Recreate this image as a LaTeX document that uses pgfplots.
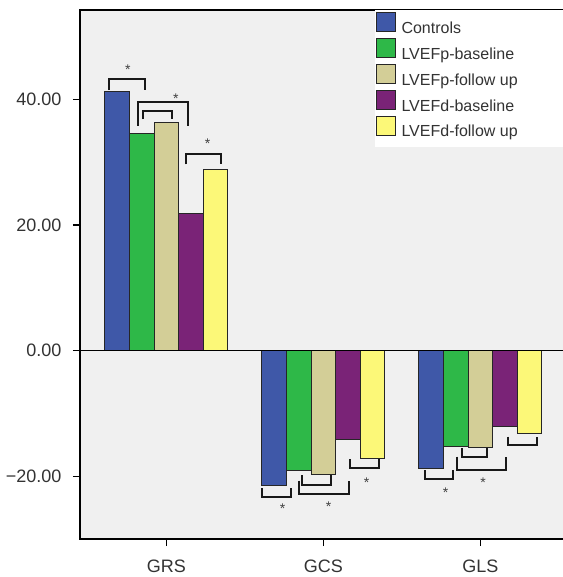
\documentclass[border=0pt]{standalone}
\usepackage{pgfplots}
\pgfplotsset{compat=1.18}
\usepackage{fontspec}
\setmainfont{Liberation Sans}
\definecolor{cblue}{HTML}{3F58A8}
\definecolor{cgreen}{HTML}{2EB848}
\definecolor{ctan}{HTML}{D3CE97}
\definecolor{cpurple}{HTML}{7A2377}
\definecolor{cyellow}{HTML}{FCF878}
\definecolor{bgg}{HTML}{F0F0F0}
\definecolor{txt}{HTML}{333333}
\begin{document}
\begin{tikzpicture}
\begin{axis}[
  scale only axis, width=243.35pt, height=264.5pt,
  xmin=-0.55, xmax=2.55, ymin=-30, ymax=54.25,
  axis background/.style={fill=bgg},
  ybar=0pt, bar width=12.3pt,
  xtick={0,1,2}, xticklabels={GRS,GCS,GLS},
  ytick={-20,0,20,40}, yticklabels={−20.00,0.00,20.00,40.00},
  minor tick num=0,
  tick align=outside, xtick pos=bottom, ytick pos=left, major tick length=3.5pt,
  tick style={black, line width=0.6pt},
  axis line style={line width=0.6pt, black},
  ticklabel style={font=\fontsize{9}{10}\selectfont, text=txt},
  xticklabel style={yshift=-3.5pt},
  yticklabel style={xshift=-2.3pt},
  legend style={at={(rel axis cs:0.6076,0.997)}, anchor=north west, draw=none, fill=none,
    font=\fontsize{8}{9.6}\selectfont, row sep=-0.25pt, inner sep=0pt,
    nodes={inner sep=1pt, text=txt}},
  legend cell align=left,
  legend image code/.code={\draw[#1, line width=0.5pt] (0pt,-1.2pt) rectangle (9.3pt,8.3pt); \path (11.2pt,0pt);},
  every axis plot/.append style={draw=black!85, line width=0.5pt},
]
\fill[white] (rel axis cs:0.6061,1) rectangle (rel axis cs:1,0.741);
\coordinate (sw) at (rel axis cs:0,0);
\addplot[fill=cblue] coordinates {(0,41.2) (1,-21.5) (2,-18.8)};
\addplot[fill=cgreen] coordinates {(0,34.5) (1,-19.1) (2,-15.2)};
\addplot[fill=ctan] coordinates {(0,36.3) (1,-19.8) (2,-15.5)};
\addplot[fill=cpurple] coordinates {(0,21.9) (1,-14.1) (2,-12.1)};
\addplot[fill=cyellow] coordinates {(0,28.9) (1,-17.1) (2,-13.2)};
\legend{Controls,LVEFp-baseline,LVEFp-follow up,LVEFd-baseline,LVEFd-follow up}
\draw[line width=0.6pt, black] (axis cs:-0.55,0) -- (axis cs:2.55,0);
% significance brackets
\begin{scope}[line width=1pt, black!90]
\draw (axis cs:-0.363,41.5) -- (axis cs:-0.363,43.22) -- (axis cs:-0.136,43.22) -- (axis cs:-0.136,41.5);
\draw (axis cs:-0.179,35.78) -- (axis cs:-0.179,39.55) -- (axis cs:0.136,39.55) -- (axis cs:0.136,35.78);
\draw (axis cs:-0.151,36.85) -- (axis cs:-0.151,38.22) -- (axis cs:0.034,38.22) -- (axis cs:0.034,36.85);
\draw (axis cs:0.125,29.68) -- (axis cs:0.125,31.32) -- (axis cs:0.350,31.32) -- (axis cs:0.350,29.68);
\draw (axis cs:0.611,-21.91) -- (axis cs:0.611,-23.25) -- (axis cs:0.794,-23.25) -- (axis cs:0.794,-21.91);
\draw (axis cs:0.864,-19.84) -- (axis cs:0.864,-21.39) -- (axis cs:1.047,-21.39) -- (axis cs:1.047,-19.84);
\draw (axis cs:0.845,-20.70) -- (axis cs:0.845,-22.87) -- (axis cs:1.163,-22.87) -- (axis cs:1.163,-20.70);
\draw (axis cs:1.172,-17.29) -- (axis cs:1.172,-18.68) -- (axis cs:1.353,-18.68) -- (axis cs:1.353,-17.29);
\draw (axis cs:1.646,-19.04) -- (axis cs:1.646,-20.38) -- (axis cs:1.828,-20.38) -- (axis cs:1.828,-19.04);
\draw (axis cs:1.883,-15.54) -- (axis cs:1.883,-16.93) -- (axis cs:2.042,-16.93) -- (axis cs:2.042,-15.54);
\draw (axis cs:1.849,-16.88) -- (axis cs:1.849,-18.95) -- (axis cs:2.163,-18.95) -- (axis cs:2.163,-16.88);
\draw (axis cs:2.176,-13.69) -- (axis cs:2.176,-15.02) -- (axis cs:2.359,-15.02) -- (axis cs:2.359,-13.69);
\end{scope}
\begin{scope}[every node/.style={font=\fontsize{7}{8}\selectfont, text=black!75, inner sep=0pt, yshift=-1.5pt}]
\node at (axis cs:-0.246,45.2) {*};
\node at (axis cs:0.060,40.6) {*};
\node at (axis cs:0.263,33.44) {*};
\node at (axis cs:0.741,-24.68) {*};
\node at (axis cs:1.034,-24.30) {*};
\node at (axis cs:1.276,-20.48) {*};
\node at (axis cs:1.779,-22.07) {*};
\node at (axis cs:2.017,-20.54) {*};
\end{scope}
\end{axis}
\pgfresetboundingbox
\useasboundingbox ([shift={(-40pt,-19pt)}]sw) rectangle ([shift={(241pt,269.5pt)}]sw);
\end{tikzpicture}
\end{document}
